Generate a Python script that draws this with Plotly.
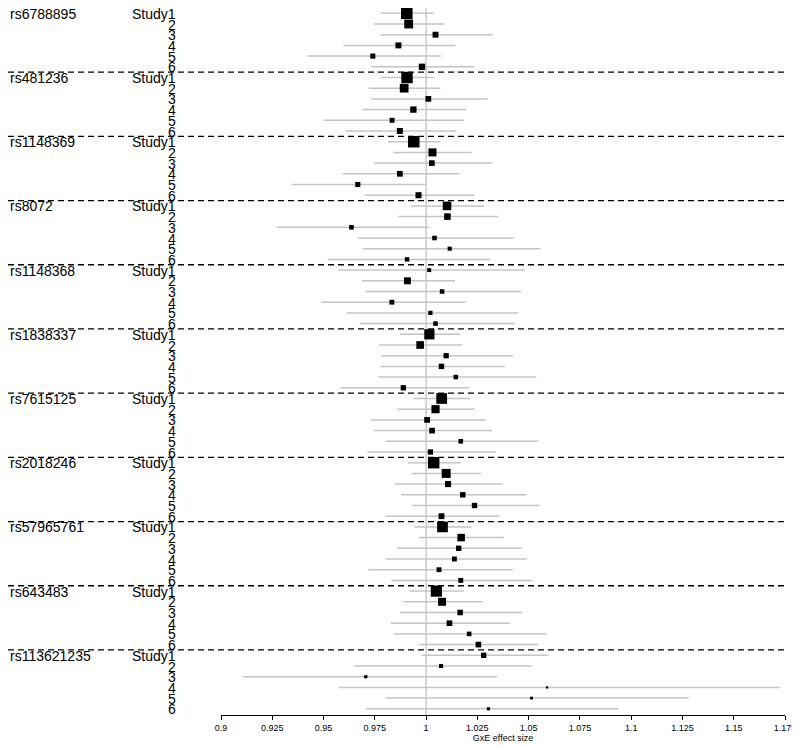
import plotly.graph_objects as go

snps = ["rs6788895", "rs481236", "rs1148369", "rs8072", "rs1148368", "rs1838337",
        "rs7615125", "rs2018246", "rs57965761", "rs643483", "rs113621235"]
study_labels = ["Study1", "2", "3", "4", "5", "6"]

est = [
    [0.9906, 0.9915, 1.0046, 0.9865, 0.9740, 0.9980],
    [0.9907, 0.9893, 1.0011, 0.9938, 0.9834, 0.9872],
    [0.9940, 1.0031, 1.0028, 0.9872, 0.9667, 0.9963],
    [1.0102, 1.0104, 0.9636, 1.0041, 1.0115, 0.9907],
    [1.0015, 0.9909, 1.0078, 0.9833, 1.0021, 1.0046],
    [1.0016, 0.9971, 1.0098, 1.0075, 1.0145, 0.9889],
    [1.0076, 1.0046, 1.0005, 1.0029, 1.0169, 1.0021],
    [1.0037, 1.0098, 1.0107, 1.0179, 1.0236, 1.0075],
    [1.0080, 1.0171, 1.0159, 1.0138, 1.0063, 1.0169],
    [1.0050, 1.0078, 1.0166, 1.0114, 1.0210, 1.0255],
    [1.0281, 1.0073, 0.9706, 1.0590, 1.0514, 1.0304],
]
lower = [
    [0.9780, 0.9745, 0.9777, 0.9597, 0.9420, 0.9732],
    [0.9780, 0.9720, 0.9732, 0.9688, 0.9500, 0.9605],
    [0.9813, 0.9840, 0.9745, 0.9593, 0.9345, 0.9699],
    [0.9927, 0.9865, 0.9272, 0.9670, 0.9693, 0.9520],
    [0.9572, 0.9686, 0.9704, 0.9488, 0.9613, 0.9676],
    [0.9873, 0.9771, 0.9782, 0.9777, 0.9767, 0.9582],
    [0.9938, 0.9859, 0.9730, 0.9745, 0.9805, 0.9714],
    [0.9911, 0.9930, 0.9847, 0.9878, 0.9932, 0.9802],
    [0.9943, 0.9964, 0.9857, 0.9802, 0.9719, 0.9831],
    [0.9919, 0.9889, 0.9873, 0.9828, 0.9842, 0.9967],
    [0.9976, 0.9649, 0.9106, 0.9574, 0.9802, 0.9707],
]
upper = [
    [1.0036, 1.0089, 1.0325, 1.0143, 1.0073, 1.0236],
    [1.0039, 1.0070, 1.0301, 1.0195, 1.0185, 1.0146],
    [1.0070, 1.0223, 1.0322, 1.0163, 1.0000, 1.0236],
    [1.0285, 1.0351, 1.0016, 1.0426, 1.0558, 1.0312],
    [1.0481, 1.0141, 1.0463, 1.0192, 1.0449, 1.0433],
    [1.0166, 1.0176, 1.0423, 1.0384, 1.0537, 1.0211],
    [1.0216, 1.0237, 1.0291, 1.0322, 1.0548, 1.0340],
    [1.0169, 1.0268, 1.0374, 1.0488, 1.0553, 1.0358],
    [1.0221, 1.0379, 1.0468, 1.0491, 1.0423, 1.0517],
    [1.0185, 1.0276, 1.0468, 1.0408, 1.0589, 1.0548],
    [1.0598, 1.0514, 1.0346, 1.1728, 1.1281, 1.0938],
]
tick_vals = [0.9, 0.925, 0.95, 0.975, 1.0, 1.025, 1.05, 1.075, 1.1, 1.125, 1.15, 1.175]
tick_text = ["0.9", "0.925", "0.95", "0.975", "1", "1.025", "1.05", "1.075", "1.1", "1.125", "1.15", "1.175"]

n_st = len(study_labels)
rows, xs, ci_x, ci_y, sizes = [], [], [], [], []
for g in range(len(snps)):
    for s in range(n_st):
        r = g * n_st + s
        rows.append(r)
        xs.append(est[g][s])
        ci_x += [lower[g][s], upper[g][s], None]
        ci_y += [r, r, None]
        w = upper[g][s] - lower[g][s]
        sizes.append(0.27 / w + 1.0)

fig = go.Figure()
fig.add_trace(go.Scatter(x=ci_x, y=ci_y, mode="lines",
                         line=dict(color="#c4c4c4", width=1.5),
                         hoverinfo="skip", showlegend=False))
fig.add_trace(go.Scatter(x=xs, y=rows, mode="markers", opacity=1,
                         marker=dict(symbol="square", size=sizes, color="#000000",
                                     opacity=1, line=dict(width=0)),
                         showlegend=False))

# the page body adds an 8px margin, so the figure is 792x739
W, H = 792, 739
L, R, T, B = 213, 15, 0, 32
pw = W - L - R
row0, step = 5.3, 10.7
y_top = -row0 / step
y_bot = (H - B - row0) / step

shapes = [dict(type="line", xref="x", yref="y", x0=1, x1=1, y0=y_top, y1=y_bot,
               line=dict(color="#b0b0b0", width=1), layer="below")]
for g in range(1, len(snps)):
    yy = g * n_st - 0.5
    shapes.append(dict(type="line", xref="paper", yref="y", x0=-L / pw, x1=1,
                       y0=yy, y1=yy, line=dict(color="black", width=1.3, dash="6px,4px"),
                       layer="above"))

ann = []
font = dict(family="Liberation Sans, Arial, sans-serif", size=14, color="black")
for g, name in enumerate(snps):
    ann.append(dict(text=name, xref="paper", yref="y", x=(0 - L) / pw, y=g * n_st + 0.05,
                    xanchor="left", yanchor="middle", showarrow=False, font=font))
    for s, lab in enumerate(study_labels):
        ann.append(dict(text=lab, xref="paper", yref="y", x=(170 - L) / pw, y=g * n_st + s + 0.05,
                        xanchor="right", yanchor="middle", showarrow=False, font=font))

small = dict(family="Liberation Sans, Arial, sans-serif", size=9, color="black")
fig.update_layout(
    width=W, height=H,
    margin=dict(l=L, r=R, t=T, b=B, pad=0, autoexpand=False),
    paper_bgcolor="white", plot_bgcolor="white",
    shapes=shapes, annotations=ann,
    xaxis=dict(range=[0.9, 1.175], tickvals=tick_vals, ticktext=tick_text,
               showgrid=False, zeroline=False, showline=True, linecolor="black",
               linewidth=1, ticks="outside", ticklen=4, tickcolor="black",
               tickfont=small,
               title=dict(text="GxE effect size", standoff=1, font=small)),
    yaxis=dict(range=[y_bot, y_top], visible=False),
    hovermode=False,
)
fig.write_html("out.html")
